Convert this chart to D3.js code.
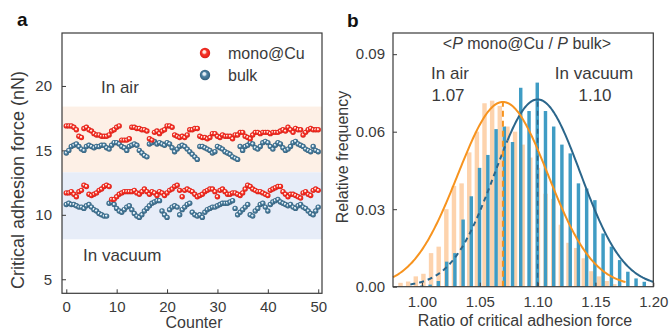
<!DOCTYPE html>
<html><head><meta charset="utf-8">
<script src="https://cdn.jsdelivr.net/npm/d3@7"></script>
<style>body{margin:0;background:#fff}svg{display:block;font-family:"Liberation Sans",Arial,sans-serif}</style>
</head><body><svg id="c" width="670" height="330"></svg>
<script>
// ---------- Panel a data ----------
const counter = [0,0.5,1,1.5,2,2.5,3,3.5,4,4.5,5,5.5,6,6.5,7,7.5,8,8.5,9,9.5,
10,10.5,11,11.5,12,12.5,13,13.5,14,14.5,15,15.5,16,16.5,17,17.5,18,18.5,19,19.5,
20,20.5,21,21.5,22,22.5,23,23.5,24,24.5,25,25.5,26,26.5,27,27.5,28,28.5,29,29.5,
30,30.5,31,31.5,32,32.5,33,33.5,34,34.5,35,35.5,36,36.5,37,37.5,38,38.5,39,39.5,
40,40.5,41,41.5,42,42.5,43,43.5,44,44.5,45,45.5,46,46.5,47,47.5,48,48.5,49,49.5,50];
const airMono = [16.9,16.9,16.9,16.8,16.6,16.1,16.0,16.7,16.8,16.6,
16.5,16.3,16.2,16.2,16.1,16.1,16.1,16.2,16.5,16.6,
16.8,16.9,15.8,15.8,15.8,15.9,16.8,16.8,16.7,16.7,
16.6,16.6,16.5,15.9,15.8,16.4,16.5,16.3,16.5,16.6,
16.9,16.9,16.8,16.2,16.1,16.0,16.1,16.0,16.2,16.6,
16.6,16.7,16.7,16.1,16.0,16.0,15.9,16.0,16.3,16.3,
16.1,16.0,16.2,16.1,16.1,16.1,15.9,16.2,16.2,16.4,
16.4,16.1,16.0,15.9,16.2,16.4,16.4,16.3,16.4,16.4,
16.4,16.3,16.4,16.4,16.4,16.5,16.6,16.5,16.8,16.6,
16.4,16.7,16.6,16.6,16.2,16.4,16.6,16.7,16.6,16.6,16.6];
const airBulk = [14.8,15.0,15.3,15.4,15.5,15.3,15.1,15.0,15.3,15.4,
15.3,15.2,15.3,15.3,15.4,15.4,15.2,15.1,15.4,15.6,
15.6,15.5,15.3,15.2,15.0,15.3,15.4,15.5,15.4,15.0,
14.8,14.6,14.5,15.5,15.6,15.7,15.5,15.6,15.5,15.4,
15.6,15.5,15.2,14.9,15.1,15.3,15.4,15.3,15.1,14.9,
14.7,14.5,14.3,15.3,15.3,15.2,15.1,15.0,14.8,14.9,
15.3,15.2,15.1,14.9,14.8,14.7,14.5,14.4,14.3,15.3,
15.0,15.3,15.4,15.6,15.5,15.2,15.1,15.3,15.6,15.7,
15.6,15.3,15.1,15.4,15.6,15.5,15.2,15.0,15.1,15.3,
15.6,15.7,15.5,15.4,15.3,15.1,15.0,14.9,15.3,15.0,14.9];
const vacMono = [11.7,11.7,11.8,11.6,11.4,11.8,11.9,12.3,12.2,11.6,
11.5,11.6,11.7,11.9,12.0,12.2,12.3,12.2,11.2,11.2,
11.4,11.6,11.7,11.8,11.8,11.8,11.8,11.9,11.7,11.6,
11.8,12.0,11.8,11.6,11.8,11.7,11.5,11.8,11.7,11.5,
11.7,11.9,12.0,12.2,12.3,11.9,11.4,11.9,12.0,11.9,
11.8,11.6,11.4,11.5,11.6,11.8,11.9,12.0,12.0,11.8,
11.4,11.9,12.0,11.8,11.6,11.6,11.7,11.7,11.6,11.5,
11.7,12.0,12.3,12.2,12.0,11.9,11.8,11.8,11.7,11.6,
11.5,11.9,12.0,12.1,12.2,12.2,11.8,11.6,11.4,11.6,
11.6,11.5,11.4,11.3,11.7,11.8,11.6,11.5,11.9,12.0,11.9];
const vacBulk = [10.8,10.9,10.8,10.8,10.7,10.6,10.6,10.5,10.7,10.8,
10.6,10.4,10.3,10.1,10.0,9.9,9.9,10.9,11.0,10.8,
10.5,10.3,10.2,10.4,10.6,10.7,10.4,10.1,9.9,9.8,
10.0,10.3,10.5,10.7,10.9,11.0,11.1,11.1,10.3,10.0,
9.8,10.4,10.6,10.7,10.6,10.0,10.4,10.6,10.8,10.9,
10.2,10.0,9.9,10.0,9.8,10.2,10.4,10.5,10.6,10.6,
10.7,10.8,10.9,10.9,10.9,11.0,11.1,10.5,10.0,10.2,
10.4,10.6,10.8,10.0,9.9,10.3,10.5,10.8,10.9,10.6,
10.3,10.8,11.0,11.1,11.2,11.0,10.9,10.8,10.7,10.8,
10.6,10.5,10.7,10.8,10.6,10.5,10.3,10.1,10.0,10.3,10.6];
const bandAir = [13.3, 18.4];
const bandVac = [8.1, 13.3];
const xTicksA = [0,10,20,30,40,50];
const yTicksA = [5,10,15,20];

// ---------- Panel b data ----------
const binAir = [0.9815,0.9881,0.9947,1.0013,1.0079,1.0145,1.0211,1.0277,1.0343,1.0409,1.0475,1.0541,1.0607,1.0673,1.0739,1.0805,1.0871,1.0937,1.1003,1.1069,1.1135,1.1201,1.1267,1.1333,1.1399,1.1465,1.1531,1.1597,1.1663];
const freqAir = [0.0015,0.002,0.004,0.005,0.013,0.0155,0.030,0.039,0.040,0.052,0.060,0.071,0.072,0.070,0.062,0.060,0.055,0.050,0.046,0.036,0.034,0.024,0.017,0.015,0.011,0.006,0.004,0.0022,0.001];
const binVac = [1.0000,1.0071,1.0142,1.0214,1.0285,1.0356,1.0427,1.0498,1.0570,1.0641,1.0712,1.0783,1.0854,1.0926,1.0997,1.1068,1.1139,1.1210,1.1282,1.1353,1.1424,1.1495,1.1566,1.1638,1.1709,1.1780,1.1851,1.1922];
const freqVac = [0.0005,0.0008,0.0022,0.0097,0.013,0.026,0.035,0.046,0.051,0.061,0.062,0.056,0.077,0.068,0.079,0.068,0.062,0.055,0.0516,0.040,0.038,0.0335,0.0206,0.0155,0.0103,0.0058,0.0032,0.0019];
const fitMean = [1.07, 1.10];
const fitSigma = [0.039, 0.037];
const fitPeak = [0.0715, 0.0725];
const xTicksB = [1.00,1.05,1.10,1.15,1.20];
const yTicksB = [0,0.03,0.06,0.09];

const svg = d3.select("#c");
const ink = "#3a3a3a";
const defs = svg.append("defs");
function sphereGrad(id, c0, c1, c2, c3){
  const g = defs.append("radialGradient").attr("id", id)
    .attr("cx","50%").attr("cy","50%").attr("r","55%").attr("fx","40%").attr("fy","36%");
  g.append("stop").attr("offset","0%").attr("stop-color",c0);
  g.append("stop").attr("offset","22%").attr("stop-color",c0);
  g.append("stop").attr("offset","45%").attr("stop-color",c1);
  g.append("stop").attr("offset","80%").attr("stop-color",c2);
  g.append("stop").attr("offset","100%").attr("stop-color",c3);
}
sphereGrad("gRed","#ffe6de","#f5362a","#e8231b","#c01a12");
sphereGrad("gBlue","#e6f0f6","#4f82a2","#3a6a88","#28506a");

// ================= Panel a =================
const A = {l:62, r:322, t:33, b:293.3};
const xa = d3.scaleLinear([-0.85, 50.75], [A.l, A.r]);
const ya = d3.scaleLinear([3.91, 24.11], [A.b, A.t]);
const ga = svg.append("g");
ga.append("rect").attr("x",A.l).attr("width",A.r-A.l)
  .attr("y",ya(bandAir[1])).attr("height",ya(bandAir[0])-ya(bandAir[1])).attr("fill","#fdf0e6");
ga.append("rect").attr("x",A.l).attr("width",A.r-A.l)
  .attr("y",ya(bandVac[1])).attr("height",ya(bandVac[0])-ya(bandVac[1])).attr("fill","#e7edf8");

function axesStyle(g){
  g.select(".domain").remove();
  g.selectAll(".tick line").attr("stroke",ink).attr("stroke-width",1);
  g.selectAll(".tick text").attr("fill",ink).attr("font-size",15).attr("font-family","Liberation Sans, Arial, sans-serif");
}
ga.append("g").attr("transform",`translate(0,${A.b})`)
  .call(d3.axisBottom(xa).tickValues(xTicksA).tickSizeInner(-4).tickSizeOuter(0).tickPadding(8).tickFormat(d3.format("d")))
  .call(axesStyle);
ga.append("g").attr("transform",`translate(${A.l},0)`)
  .call(d3.axisLeft(ya).tickValues(yTicksA).tickSizeInner(-4).tickSizeOuter(0).tickPadding(10).tickFormat(d3.format("d")))
  .call(axesStyle);

const R = 2.7;
function dots(vals, grad){
  ga.append("g").selectAll("circle").data(vals).join("circle")
    .attr("cx",(d,i)=>xa(counter[i])).attr("cy",d=>ya(d)).attr("r",R)
    .attr("fill",`url(#${grad})`);
}
dots(airBulk,"gBlue"); dots(vacBulk,"gBlue");
dots(airMono,"gRed"); dots(vacMono,"gRed");

ga.append("rect").attr("x",A.l).attr("y",A.t).attr("width",A.r-A.l).attr("height",A.b-A.t)
  .attr("fill","none").attr("stroke",ink).attr("stroke-width",1.2);

// legend
ga.append("circle").attr("cx",205).attr("cy",53).attr("r",5.2).attr("fill","url(#gRed)");
ga.append("circle").attr("cx",205).attr("cy",75).attr("r",5.2).attr("fill","url(#gBlue)");
ga.append("text").attr("x",228).attr("y",53).attr("dy","0.35em").attr("font-size",16).attr("fill",ink).text("mono@Cu");
ga.append("text").attr("x",228).attr("y",75).attr("dy","0.35em").attr("font-size",16).attr("fill",ink).text("bulk");
ga.append("text").attr("x",101).attr("y",87).attr("dy","0.35em").attr("font-size",17).attr("fill",ink).text("In air");
ga.append("text").attr("x",83).attr("y",255).attr("dy","0.35em").attr("font-size",17).attr("fill",ink).text("In vacuum");
ga.append("text").attr("x",194).attr("y",322).attr("dy","0.35em").attr("text-anchor","middle").attr("font-size",16).attr("fill",ink).text("Counter");
ga.append("text").attr("transform","translate(18,180) rotate(-90)").attr("dy","0.35em").attr("text-anchor","middle").attr("font-size",18).attr("fill",ink).text("Critical adhesion force (nN)");
ga.append("text").attr("x",17).attr("y",26).attr("font-size",19).attr("font-weight","bold").attr("fill","#111").text("a");

// ================= Panel b =================
const B = {l:393, r:653.3, t:33, b:286.7};
const xb = d3.scaleLinear([0.975, 1.20], [B.l, B.r]);
const yb = d3.scaleLinear([0, 0.0982], [B.b, B.t]);
const gb = svg.append("g");
const wAir = (xb(1.0066)-xb(1.0))*0.58;
const wVac = (xb(1.0071)-xb(1.0))*0.42;
gb.append("g").selectAll("rect").data(freqAir).join("rect")
  .attr("x",(d,i)=>xb(binAir[i])-wAir/2).attr("width",wAir)
  .attr("y",d=>yb(d)).attr("height",d=>yb(0)-yb(d)).attr("fill","#fdd3ad");
gb.append("g").selectAll("rect").data(freqVac).join("rect")
  .attr("x",(d,i)=>xb(binVac[i])-wVac/2).attr("width",wVac)
  .attr("y",d=>yb(d)).attr("height",d=>yb(0)-yb(d)).attr("fill","#3f9cc4");

function gauss(k){ return x => fitPeak[k]*Math.exp(-Math.pow(x-fitMean[k],2)/(2*fitSigma[k]*fitSigma[k])); }
const line = d3.line().x(d=>xb(d[0])).y(d=>yb(d[1]));
function curve(k, x0, x1){ return d3.range(x0, x1+1e-9, 0.001).map(x=>[x, gauss(k)(x)]); }
const cOr = "#f7931e", cBl = "#2b668b";
gb.append("path").attr("d",line(curve(1,0.99,1.074))).attr("fill","none").attr("stroke",cBl).attr("stroke-width",2).attr("stroke-dasharray","5,4");
gb.append("path").attr("d",line(curve(1,1.074,1.20))).attr("fill","none").attr("stroke",cBl).attr("stroke-width",2);
gb.append("line").attr("x1",xb(fitMean[1])).attr("x2",xb(fitMean[1])).attr("y1",yb(0)).attr("y2",yb(fitPeak[1]))
  .attr("stroke",cBl).attr("stroke-width",1.5).attr("stroke-dasharray","5,4");
gb.append("path").attr("d",line(curve(0,0.975,1.176))).attr("fill","none").attr("stroke",cOr).attr("stroke-width",2);
gb.append("line").attr("x1",xb(fitMean[0])).attr("x2",xb(fitMean[0])).attr("y1",yb(0)).attr("y2",yb(fitPeak[0]))
  .attr("stroke",cOr).attr("stroke-width",2).attr("stroke-dasharray","6,4");

gb.append("g").attr("transform",`translate(0,${B.b})`)
  .call(d3.axisBottom(xb).tickValues(xTicksB).tickSizeInner(-4).tickSizeOuter(0).tickPadding(10).tickFormat(d3.format(".2f")))
  .call(axesStyle);
gb.append("g").attr("transform",`translate(${B.l},0)`)
  .call(d3.axisLeft(yb).tickValues(yTicksB).tickSizeInner(-4).tickSizeOuter(0).tickPadding(8).tickFormat(d3.format(".2f")))
  .call(axesStyle);
gb.append("rect").attr("x",B.l).attr("y",B.t).attr("width",B.r-B.l).attr("height",B.b-B.t)
  .attr("fill","none").attr("stroke",ink).attr("stroke-width",1.2);

const tt = gb.append("text").attr("x",527).attr("y",43).attr("dy","0.35em").attr("text-anchor","middle").attr("font-size",16).attr("fill",ink);
tt.append("tspan").text("<");
tt.append("tspan").attr("font-style","italic").text("P");
tt.append("tspan").text(" mono@Cu / ");
tt.append("tspan").attr("font-style","italic").text("P");
tt.append("tspan").text(" bulk>");
gb.append("text").attr("x",450).attr("y",73).attr("dy","0.35em").attr("text-anchor","middle").attr("font-size",17).attr("fill",ink).text("In air");
gb.append("text").attr("x",448).attr("y",95).attr("dy","0.35em").attr("text-anchor","middle").attr("font-size",17).attr("fill",ink).text("1.07");
gb.append("text").attr("x",594).attr("y",73).attr("dy","0.35em").attr("text-anchor","middle").attr("font-size",17).attr("fill",ink).text("In vacuum");
gb.append("text").attr("x",595).attr("y",95).attr("dy","0.35em").attr("text-anchor","middle").attr("font-size",17).attr("fill",ink).text("1.10");
gb.append("text").attr("x",525).attr("y",320).attr("dy","0.35em").attr("text-anchor","middle").attr("font-size",16).attr("fill",ink).text("Ratio of critical adhesion force");
gb.append("text").attr("transform","translate(342,157) rotate(-90)").attr("dy","0.35em").attr("text-anchor","middle").attr("font-size",16).attr("fill",ink).text("Relative frequency");
gb.append("text").attr("x",347).attr("y",27).attr("font-size",19).attr("font-weight","bold").attr("fill","#111").text("b");
</script></body></html>
